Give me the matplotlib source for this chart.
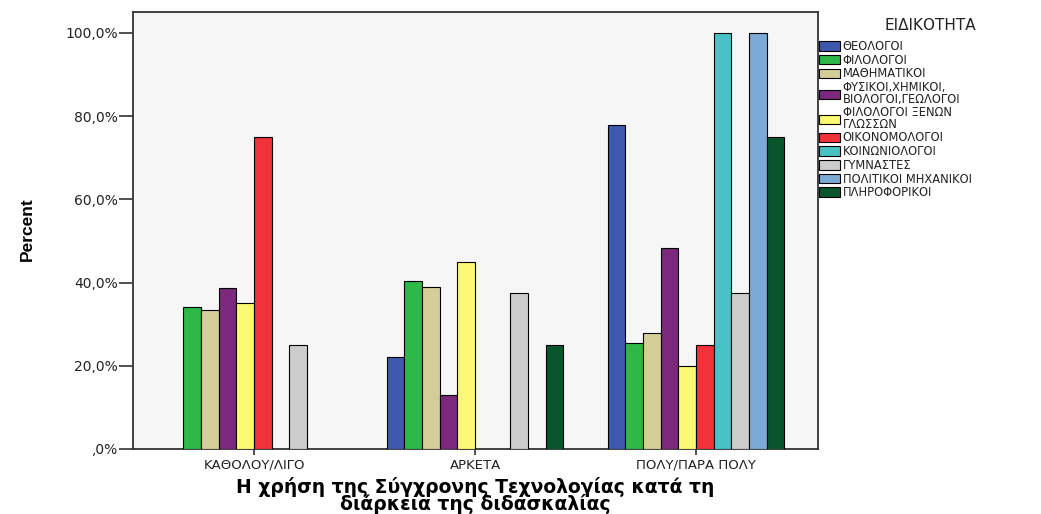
import matplotlib
matplotlib.use("Agg")
import matplotlib.pyplot as plt
from matplotlib.patches import Rectangle
import numpy as np

plt.rcParams['font.family'] = ['DejaVu Sans']

categories = ["ΚΑΘΟΛΟΥ/ΛΙΓΟ", "ΑΡΚΕΤΑ", "ΠΟΛΥ/ΠΑΡΑ ΠΟΛΥ"]
series_names = [
    "ΘΕΟΛΟΓΟΙ",
    "ΦΙΛΟΛΟΓΟΙ",
    "ΜΑΘΗΜΑΤΙΚΟΙ",
    "ΦΥΣΙΚΟΙ,ΧΗΜΙΚΟΙ,\nΒΙΟΛΟΓΟΙ,ΓΕΩΛΟΓΟΙ",
    "ΦΙΛΟΛΟΓΟΙ ΞΕΝΩΝ\nΓΛΩΣΣΩΝ",
    "ΟΙΚΟΝΟΜΟΛΟΓΟΙ",
    "ΚΟΙΝΩΝΙΟΛΟΓΟΙ",
    "ΓΥΜΝΑΣΤΕΣ",
    "ΠΟΛΙΤΙΚΟΙ ΜΗΧΑΝΙΚΟΙ",
    "ΠΛΗΡΟΦΟΡΙΚΟΙ",
]
theologoi = [0.0, 22.2, 77.8]
filologoi = [34.0, 40.4, 25.5]
mathimatikoi = [33.3, 38.9, 27.8]
fysikoi = [38.7, 12.9, 48.4]
xenon_glosson = [35.0, 45.0, 20.0]
oikonomologoi = [75.0, 0.0, 25.0]
koinoniologoi = [0.0, 0.0, 100.0]
gymnastes = [25.0, 37.5, 37.5]
politikoi_mixanikoi = [0.0, 0.0, 100.0]
pliroforikoi = [0.0, 25.0, 75.0]
series_values = [theologoi, filologoi, mathimatikoi, fysikoi, xenon_glosson,
                 oikonomologoi, koinoniologoi, gymnastes, politikoi_mixanikoi,
                 pliroforikoi]
colors = ["#3E58AC", "#2EB848", "#D3CE97", "#7C287D", "#FBF873",
          "#EF3338", "#48C2C5", "#CCCCCC", "#7AAAD5", "#0A562C"]
yticks = [0, 20, 40, 60, 80, 100]
ytick_labels = [",0%", "20,0%", "40,0%", "60,0%", "80,0%", "100,0%"]
legend_title = "ΕΙΔΙΚΟΤΗΤΑ"
y_label = "Percent"
x_label = "Η χρήση της Σύγχρονης Τεχνολογίας κατά τη\nδιάρκεια της διδασκαλίας"

fig = plt.figure(figsize=(10.41, 5.14), dpi=100)
fig.patch.set_facecolor("white")
ax = fig.add_axes([133/1041, 1-449/514, (818-133)/1041, (449-12)/514])
ax.set_facecolor("#F6F6F6")

x = np.arange(len(categories))
n = len(series_values)
w = 0.08
for i, (vals, col) in enumerate(zip(series_values, colors)):
    xs = x + (i - (n - 1) / 2) * w
    v = np.array(vals)
    mask = v > 0
    ax.bar(xs[mask], v[mask], width=w, color=col, edgecolor="black",
           linewidth=0.8, zorder=3)

ax.set_xlim(-0.548, 2.552)
ax.set_ylim(0, 105)
ax.set_xticks(x)
ax.set_xticklabels(categories, fontsize=9.5, color="#222222")
ax.set_yticks(yticks)
ax.set_yticklabels(ytick_labels, fontsize=10, color="#222222")
ax.tick_params(axis='y', direction='out', length=10, width=1.2, pad=1, color="#333333")
ax.tick_params(axis='x', direction='out', length=4, width=1.2, pad=3, color="#333333")
for s in ax.spines.values():
    s.set_linewidth(1.3)
    s.set_color("#333333")

ax.set_ylabel(y_label, fontsize=12.5, fontweight="bold",
              family=['Liberation Sans', 'DejaVu Sans'])
ax.yaxis.set_label_coords(-0.143, 0.503)
ax.set_xlabel(x_label, fontsize=13.5, fontweight="bold", linespacing=0.8)
ax.xaxis.set_label_coords(0.5, -0.064)

handles = [Rectangle((0, 0), 1, 1, facecolor=c, edgecolor="black", linewidth=0.8)
           for c in colors]
leg = fig.legend(handles, series_names, loc="upper left",
                 bbox_to_anchor=(819/1041, 1-40/514), frameon=False,
                 fontsize=8.3,
                 handlelength=1.8, handleheight=0.9, handletextpad=0.25,
                 labelspacing=0.06, borderpad=0.0, borderaxespad=0.0)
for t in leg.get_texts():
    t.set_linespacing(0.85)
    t.set_color("#222222")
fig.text(930/1041, 1-25/514, legend_title, ha="center", va="center",
         fontsize=11, color="#222222")

fig.savefig("out.png", dpi=100)
